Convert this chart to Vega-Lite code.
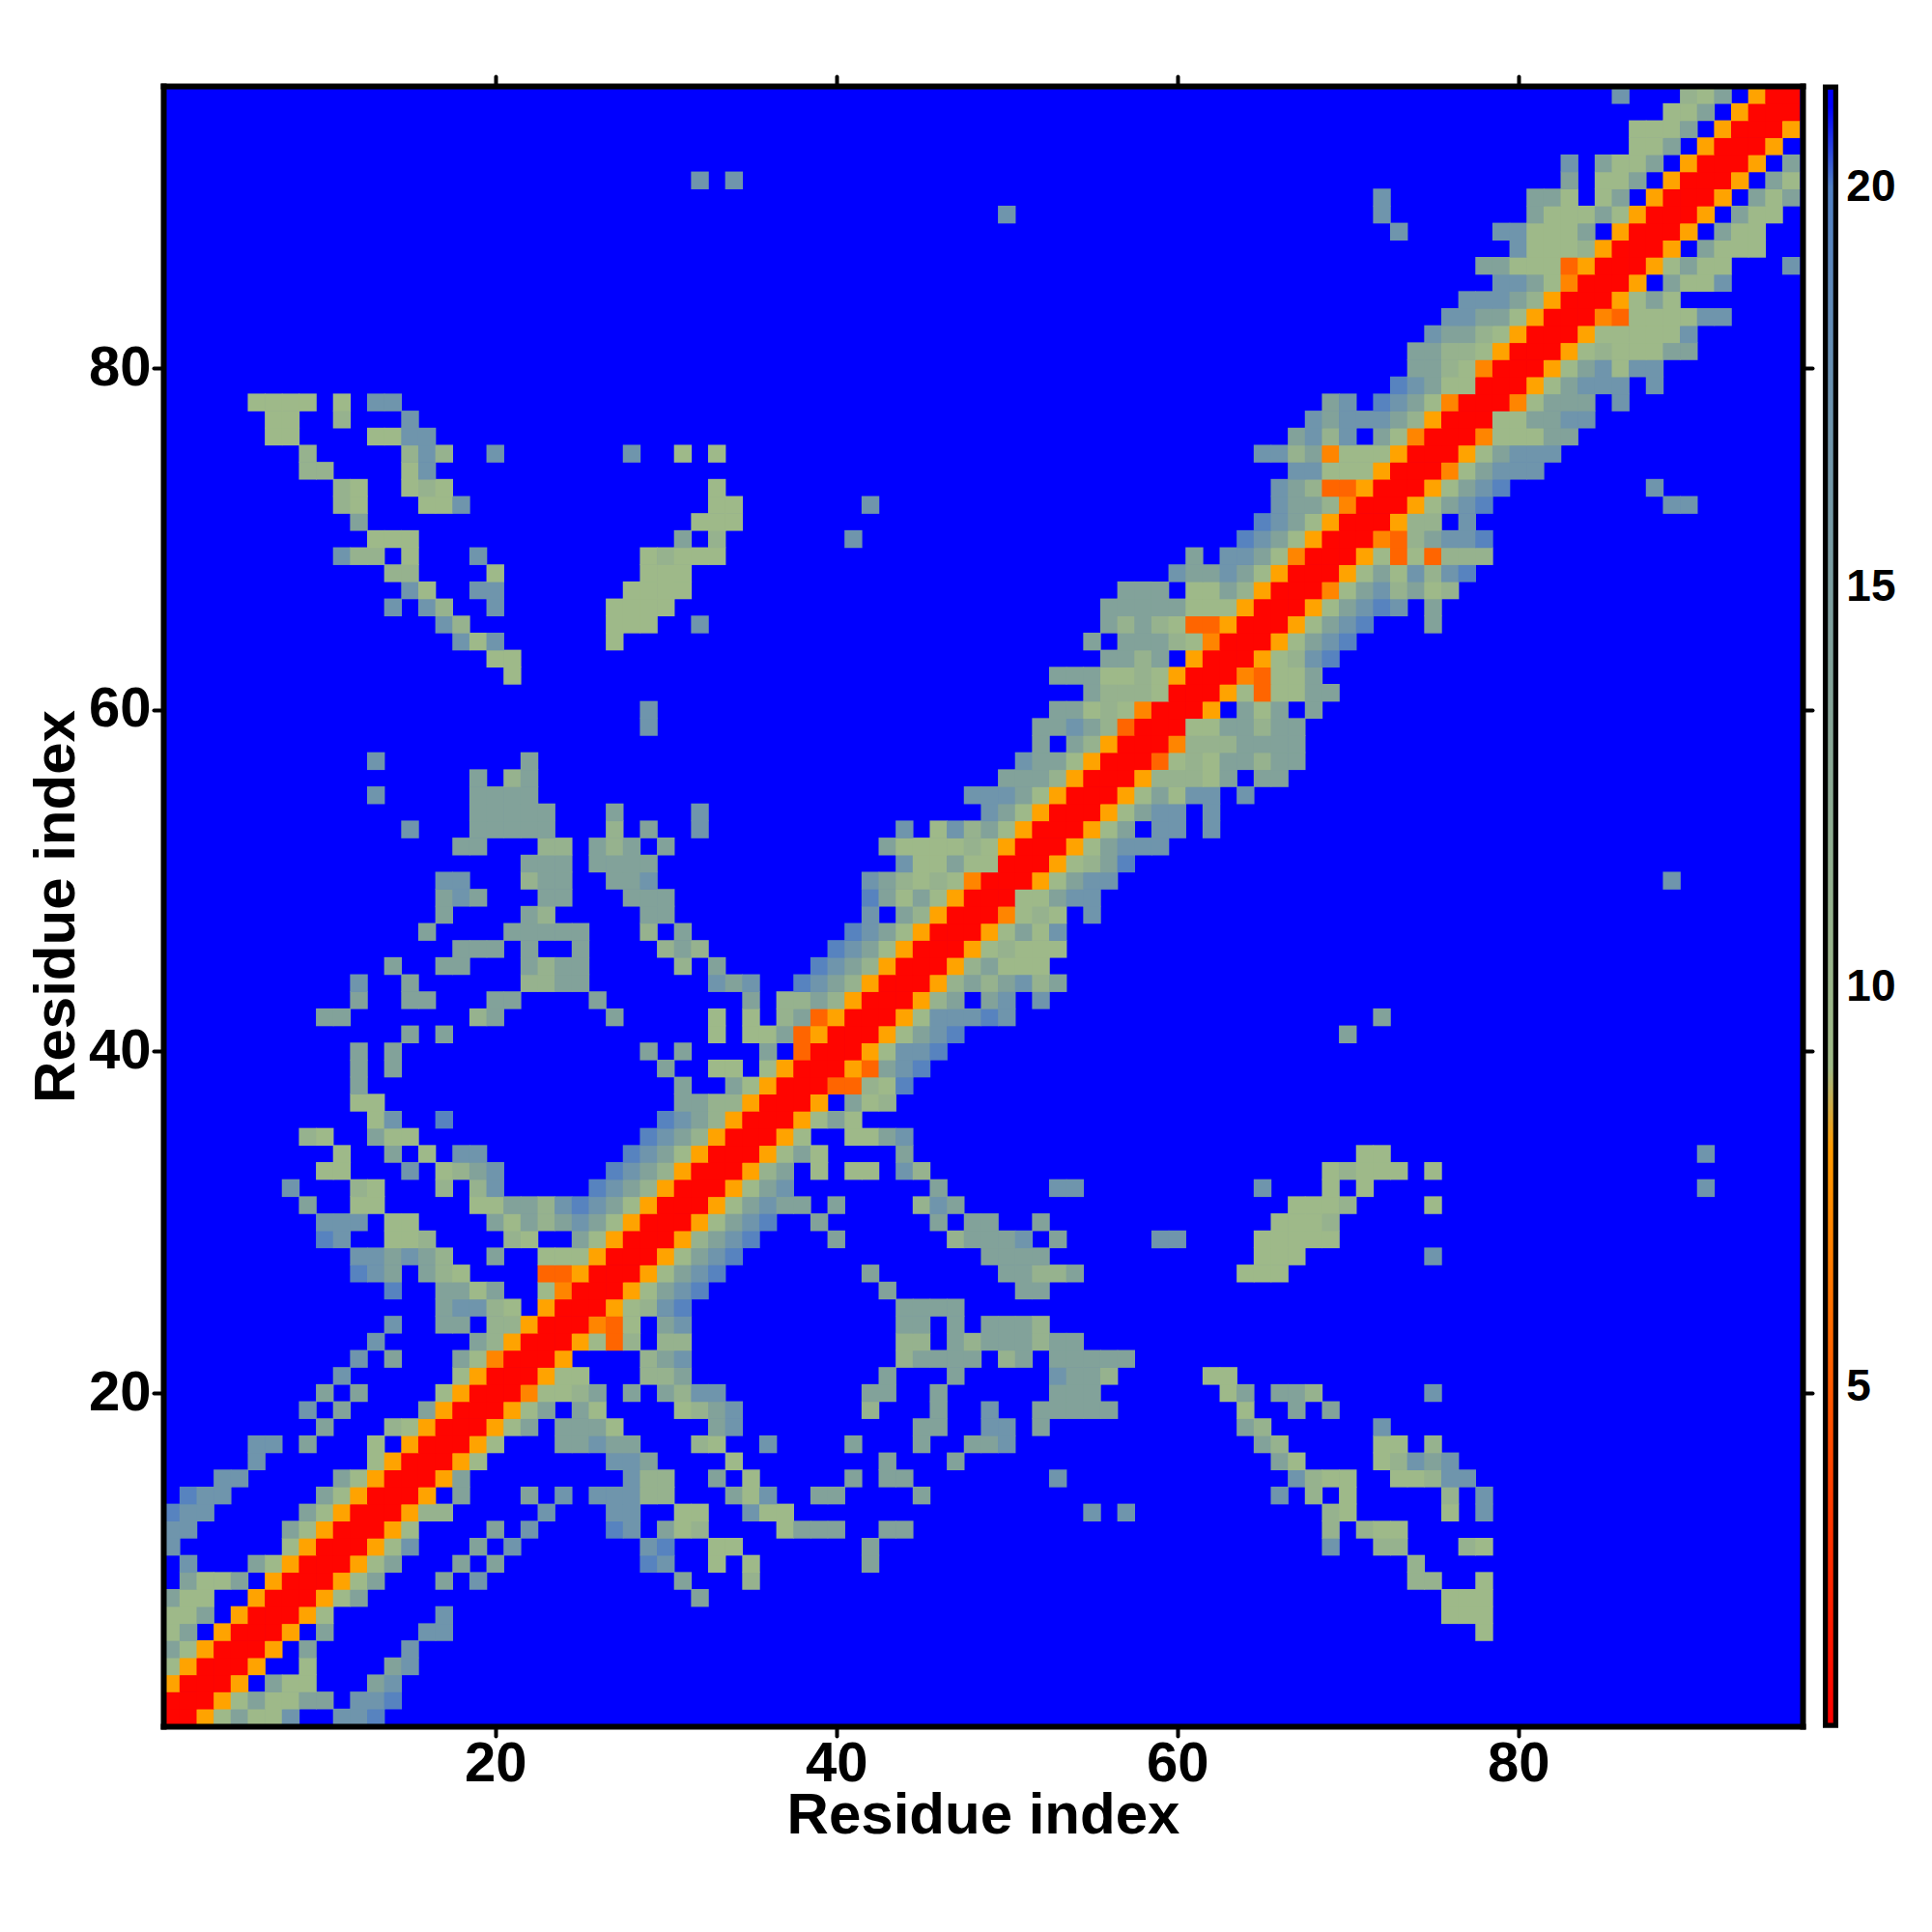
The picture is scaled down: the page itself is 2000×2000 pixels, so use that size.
{"$schema":"https://vega.github.io/schema/vega-lite/v6.json","autosize":{"type":"none"},"padding":{"left":169,"top":89,"right":134,"bottom":213},"width":1697,"height":1698,"background":"white","config":{"view":{"fill":"#0000ff","stroke":null},"font":"Liberation Sans"},"layer":[{"data":{"values":[
{"x":1,"y":1,"v":1},{"x":2,"y":1,"v":1},{"x":3,"y":1,"v":8.4},{"x":4,"y":1,"v":9.5},{"x":5,"y":1,"v":14},{"x":6,"y":1,"v":9.5},{"x":7,"y":1,"v":9.5},{"x":8,"y":1,"v":17},{"x":11,"y":1,"v":17},{"x":12,"y":1,"v":17},{"x":13,"y":1,"v":19.5},
{"x":1,"y":2,"v":1},{"x":2,"y":2,"v":1},{"x":3,"y":2,"v":1},{"x":4,"y":2,"v":8.4},{"x":5,"y":2,"v":9.5},{"x":6,"y":2,"v":14},{"x":7,"y":2,"v":9.5},{"x":8,"y":2,"v":9.5},{"x":9,"y":2,"v":14},{"x":10,"y":2,"v":14},{"x":12,"y":2,"v":17},{"x":13,"y":2,"v":17},{"x":14,"y":2,"v":19.5},
{"x":1,"y":3,"v":8.4},{"x":2,"y":3,"v":1},{"x":3,"y":3,"v":1},{"x":4,"y":3,"v":1},{"x":5,"y":3,"v":8.4},{"x":7,"y":3,"v":14},{"x":8,"y":3,"v":9.5},{"x":9,"y":3,"v":9.5},{"x":13,"y":3,"v":14},{"x":14,"y":3,"v":17},
{"x":1,"y":4,"v":9.5},{"x":2,"y":4,"v":8.4},{"x":3,"y":4,"v":1},{"x":4,"y":4,"v":1},{"x":5,"y":4,"v":1},{"x":6,"y":4,"v":8.4},{"x":9,"y":4,"v":9.5},{"x":14,"y":4,"v":14},{"x":15,"y":4,"v":17},
{"x":1,"y":5,"v":14},{"x":2,"y":5,"v":9.5},{"x":3,"y":5,"v":8.4},{"x":4,"y":5,"v":1},{"x":5,"y":5,"v":1},{"x":6,"y":5,"v":1},{"x":7,"y":5,"v":8.4},{"x":9,"y":5,"v":14},{"x":15,"y":5,"v":17},
{"x":1,"y":6,"v":9.5},{"x":2,"y":6,"v":14},{"x":4,"y":6,"v":8.4},{"x":5,"y":6,"v":1},{"x":6,"y":6,"v":1},{"x":7,"y":6,"v":1},{"x":8,"y":6,"v":8.4},{"x":10,"y":6,"v":14},{"x":16,"y":6,"v":17},{"x":17,"y":6,"v":17},{"x":78,"y":6,"v":9.5},
{"x":1,"y":7,"v":9.5},{"x":2,"y":7,"v":9.5},{"x":3,"y":7,"v":14},{"x":5,"y":7,"v":8.4},{"x":6,"y":7,"v":1},{"x":7,"y":7,"v":1},{"x":8,"y":7,"v":1},{"x":9,"y":7,"v":8.4},{"x":10,"y":7,"v":9.5},{"x":17,"y":7,"v":17},{"x":76,"y":7,"v":9.5},{"x":77,"y":7,"v":9.5},{"x":78,"y":7,"v":9.5},
{"x":1,"y":8,"v":14},{"x":2,"y":8,"v":9.5},{"x":3,"y":8,"v":9.5},{"x":6,"y":8,"v":8.4},{"x":7,"y":8,"v":1},{"x":8,"y":8,"v":1},{"x":9,"y":8,"v":1},{"x":10,"y":8,"v":8.4},{"x":11,"y":8,"v":9.5},{"x":12,"y":8,"v":14},{"x":32,"y":8,"v":14},{"x":76,"y":8,"v":9.5},{"x":77,"y":8,"v":9.5},{"x":78,"y":8,"v":9.5},
{"x":2,"y":9,"v":14},{"x":3,"y":9,"v":9.5},{"x":4,"y":9,"v":9.5},{"x":5,"y":9,"v":14},{"x":7,"y":9,"v":8.4},{"x":8,"y":9,"v":1},{"x":9,"y":9,"v":1},{"x":10,"y":9,"v":1},{"x":11,"y":9,"v":8.4},{"x":12,"y":9,"v":9.5},{"x":13,"y":9,"v":14},{"x":17,"y":9,"v":14},{"x":19,"y":9,"v":17},{"x":31,"y":9,"v":14},{"x":35,"y":9,"v":11},{"x":74,"y":9,"v":11},{"x":75,"y":9,"v":11},{"x":78,"y":9,"v":9.5},
{"x":2,"y":10,"v":17},{"x":6,"y":10,"v":14},{"x":7,"y":10,"v":9.5},{"x":8,"y":10,"v":8.4},{"x":9,"y":10,"v":1},{"x":10,"y":10,"v":1},{"x":11,"y":10,"v":1},{"x":12,"y":10,"v":8.4},{"x":13,"y":10,"v":9.5},{"x":14,"y":10,"v":14},{"x":18,"y":10,"v":14},{"x":20,"y":10,"v":14},{"x":29,"y":10,"v":19.5},{"x":30,"y":10,"v":17},{"x":33,"y":10,"v":9.5},{"x":35,"y":10,"v":9.5},{"x":42,"y":10,"v":14},{"x":74,"y":10,"v":11},
{"x":1,"y":11,"v":17},{"x":8,"y":11,"v":9.5},{"x":9,"y":11,"v":8.4},{"x":10,"y":11,"v":1},{"x":11,"y":11,"v":1},{"x":12,"y":11,"v":1},{"x":13,"y":11,"v":8.4},{"x":14,"y":11,"v":9.5},{"x":15,"y":11,"v":17},{"x":19,"y":11,"v":14},{"x":21,"y":11,"v":17},{"x":29,"y":11,"v":17},{"x":30,"y":11,"v":19.5},{"x":33,"y":11,"v":9.5},{"x":34,"y":11,"v":9.5},{"x":42,"y":11,"v":14},{"x":69,"y":11,"v":17},{"x":72,"y":11,"v":11},{"x":73,"y":11,"v":11},{"x":77,"y":11,"v":11},{"x":78,"y":11,"v":9.5},
{"x":1,"y":12,"v":17},{"x":2,"y":12,"v":17},{"x":8,"y":12,"v":14},{"x":9,"y":12,"v":9.5},{"x":10,"y":12,"v":8.4},{"x":11,"y":12,"v":1},{"x":12,"y":12,"v":1},{"x":13,"y":12,"v":1},{"x":14,"y":12,"v":8.4},{"x":15,"y":12,"v":9.5},{"x":20,"y":12,"v":14},{"x":22,"y":12,"v":17},{"x":27,"y":12,"v":19.5},{"x":28,"y":12,"v":17},{"x":30,"y":12,"v":14},{"x":31,"y":12,"v":9.5},{"x":32,"y":12,"v":11},{"x":37,"y":12,"v":9.5},{"x":38,"y":12,"v":14},{"x":39,"y":12,"v":14},{"x":40,"y":12,"v":14},{"x":43,"y":12,"v":14},{"x":44,"y":12,"v":14},{"x":69,"y":12,"v":11},{"x":71,"y":12,"v":11},{"x":72,"y":12,"v":9.5},{"x":73,"y":12,"v":9.5},
{"x":1,"y":13,"v":19.5},{"x":2,"y":13,"v":17},{"x":3,"y":13,"v":17},{"x":9,"y":13,"v":14},{"x":10,"y":13,"v":9.5},{"x":11,"y":13,"v":8.4},{"x":12,"y":13,"v":1},{"x":13,"y":13,"v":1},{"x":14,"y":13,"v":1},{"x":15,"y":13,"v":8.4},{"x":16,"y":13,"v":11},{"x":17,"y":13,"v":11},{"x":23,"y":13,"v":17},{"x":27,"y":13,"v":17},{"x":28,"y":13,"v":17},{"x":31,"y":13,"v":9.5},{"x":32,"y":13,"v":9.5},{"x":35,"y":13,"v":17},{"x":36,"y":13,"v":9.5},{"x":37,"y":13,"v":9.5},{"x":55,"y":13,"v":17},{"x":57,"y":13,"v":17},{"x":69,"y":13,"v":11},{"x":70,"y":13,"v":9.5},{"x":76,"y":13,"v":9.5},{"x":78,"y":13,"v":17},
{"x":2,"y":14,"v":19.5},{"x":3,"y":14,"v":17},{"x":4,"y":14,"v":17},{"x":10,"y":14,"v":14},{"x":11,"y":14,"v":9.5},{"x":12,"y":14,"v":8.4},{"x":13,"y":14,"v":1},{"x":14,"y":14,"v":1},{"x":15,"y":14,"v":1},{"x":16,"y":14,"v":8.4},{"x":18,"y":14,"v":14},{"x":22,"y":14,"v":14},{"x":24,"y":14,"v":17},{"x":26,"y":14,"v":17},{"x":27,"y":14,"v":17},{"x":28,"y":14,"v":17},{"x":29,"y":14,"v":11},{"x":30,"y":14,"v":11},{"x":34,"y":14,"v":14},{"x":35,"y":14,"v":9.5},{"x":36,"y":14,"v":17},{"x":39,"y":14,"v":14},{"x":40,"y":14,"v":14},{"x":45,"y":14,"v":14},{"x":66,"y":14,"v":17},{"x":68,"y":14,"v":11},{"x":70,"y":14,"v":9.5},{"x":76,"y":14,"v":11},{"x":78,"y":14,"v":17},
{"x":4,"y":15,"v":17},{"x":5,"y":15,"v":17},{"x":11,"y":15,"v":14},{"x":12,"y":15,"v":9.5},{"x":13,"y":15,"v":8.4},{"x":14,"y":15,"v":1},{"x":15,"y":15,"v":1},{"x":16,"y":15,"v":1},{"x":17,"y":15,"v":8.4},{"x":18,"y":15,"v":14},{"x":28,"y":15,"v":17},{"x":29,"y":15,"v":11},{"x":30,"y":15,"v":11},{"x":33,"y":15,"v":14},{"x":35,"y":15,"v":9.5},{"x":41,"y":15,"v":14},{"x":43,"y":15,"v":14},{"x":44,"y":15,"v":14},{"x":53,"y":15,"v":17},{"x":67,"y":15,"v":17},{"x":68,"y":15,"v":11},{"x":69,"y":15,"v":9.5},{"x":70,"y":15,"v":9.5},{"x":73,"y":15,"v":9.5},{"x":74,"y":15,"v":9.5},{"x":75,"y":15,"v":11},{"x":76,"y":15,"v":17},{"x":77,"y":15,"v":17},
{"x":6,"y":16,"v":17},{"x":13,"y":16,"v":9.5},{"x":14,"y":16,"v":8.4},{"x":15,"y":16,"v":1},{"x":16,"y":16,"v":1},{"x":17,"y":16,"v":1},{"x":18,"y":16,"v":8.4},{"x":19,"y":16,"v":9.5},{"x":27,"y":16,"v":17},{"x":28,"y":16,"v":17},{"x":29,"y":16,"v":14},{"x":34,"y":16,"v":9.5},{"x":43,"y":16,"v":14},{"x":47,"y":16,"v":14},{"x":66,"y":16,"v":14},{"x":67,"y":16,"v":9.5},{"x":72,"y":16,"v":9.5},{"x":73,"y":16,"v":11},{"x":74,"y":16,"v":17},{"x":75,"y":16,"v":14},{"x":76,"y":16,"v":17},
{"x":6,"y":17,"v":17},{"x":7,"y":17,"v":17},{"x":9,"y":17,"v":14},{"x":13,"y":17,"v":9.5},{"x":15,"y":17,"v":8.4},{"x":16,"y":17,"v":1},{"x":17,"y":17,"v":1},{"x":18,"y":17,"v":1},{"x":19,"y":17,"v":8.4},{"x":20,"y":17,"v":9.5},{"x":24,"y":17,"v":14},{"x":25,"y":17,"v":14},{"x":26,"y":17,"v":17},{"x":27,"y":17,"v":14},{"x":28,"y":17,"v":14},{"x":32,"y":17,"v":11},{"x":33,"y":17,"v":9.5},{"x":36,"y":17,"v":17},{"x":41,"y":17,"v":14},{"x":45,"y":17,"v":14},{"x":48,"y":17,"v":14},{"x":49,"y":17,"v":14},{"x":50,"y":17,"v":17},{"x":65,"y":17,"v":14},{"x":66,"y":17,"v":11},{"x":72,"y":17,"v":9.5},{"x":73,"y":17,"v":9.5},{"x":75,"y":17,"v":11},
{"x":10,"y":18,"v":14},{"x":14,"y":18,"v":11},{"x":15,"y":18,"v":9.5},{"x":16,"y":18,"v":8.4},{"x":17,"y":18,"v":1},{"x":18,"y":18,"v":1},{"x":19,"y":18,"v":1},{"x":20,"y":18,"v":8.4},{"x":21,"y":18,"v":9.5},{"x":22,"y":18,"v":14},{"x":24,"y":18,"v":14},{"x":25,"y":18,"v":14},{"x":26,"y":18,"v":14},{"x":27,"y":18,"v":9.5},{"x":33,"y":18,"v":14},{"x":34,"y":18,"v":17},{"x":45,"y":18,"v":14},{"x":46,"y":18,"v":14},{"x":49,"y":18,"v":17},{"x":50,"y":18,"v":17},{"x":52,"y":18,"v":14},{"x":64,"y":18,"v":14},{"x":65,"y":18,"v":11},{"x":72,"y":18,"v":17},
{"x":9,"y":19,"v":17},{"x":11,"y":19,"v":14},{"x":16,"y":19,"v":14},{"x":17,"y":19,"v":8.4},{"x":18,"y":19,"v":1},{"x":19,"y":19,"v":1},{"x":20,"y":19,"v":1},{"x":21,"y":19,"v":8.4},{"x":22,"y":19,"v":9.5},{"x":23,"y":19,"v":14},{"x":25,"y":19,"v":14},{"x":26,"y":19,"v":9.5},{"x":31,"y":19,"v":9.5},{"x":32,"y":19,"v":11},{"x":33,"y":19,"v":14},{"x":34,"y":19,"v":17},{"x":42,"y":19,"v":11},{"x":46,"y":19,"v":14},{"x":49,"y":19,"v":17},{"x":52,"y":19,"v":14},{"x":53,"y":19,"v":14},{"x":54,"y":19,"v":14},{"x":55,"y":19,"v":14},{"x":56,"y":19,"v":14},{"x":64,"y":19,"v":9.5},{"x":67,"y":19,"v":14},{"x":69,"y":19,"v":14},
{"x":10,"y":20,"v":14},{"x":12,"y":20,"v":14},{"x":17,"y":20,"v":9.5},{"x":18,"y":20,"v":8.4},{"x":19,"y":20,"v":1},{"x":20,"y":20,"v":1},{"x":21,"y":20,"v":1},{"x":22,"y":20,"v":7},{"x":23,"y":20,"v":9.5},{"x":24,"y":20,"v":9.5},{"x":25,"y":20,"v":11},{"x":26,"y":20,"v":14},{"x":28,"y":20,"v":14},{"x":30,"y":20,"v":14},{"x":31,"y":20,"v":11},{"x":32,"y":20,"v":17},{"x":33,"y":20,"v":17},{"x":42,"y":20,"v":14},{"x":43,"y":20,"v":14},{"x":46,"y":20,"v":14},{"x":53,"y":20,"v":14},{"x":54,"y":20,"v":14},{"x":55,"y":20,"v":14},{"x":63,"y":20,"v":9.5},{"x":64,"y":20,"v":14},{"x":66,"y":20,"v":14},{"x":67,"y":20,"v":14},{"x":68,"y":20,"v":11},{"x":75,"y":20,"v":17},
{"x":11,"y":21,"v":17},{"x":18,"y":21,"v":9.5},{"x":19,"y":21,"v":8.4},{"x":20,"y":21,"v":1},{"x":21,"y":21,"v":1},{"x":22,"y":21,"v":1},{"x":23,"y":21,"v":8.4},{"x":24,"y":21,"v":9.5},{"x":25,"y":21,"v":9.5},{"x":29,"y":21,"v":11},{"x":30,"y":21,"v":11},{"x":31,"y":21,"v":14},{"x":43,"y":21,"v":14},{"x":47,"y":21,"v":14},{"x":53,"y":21,"v":17},{"x":54,"y":21,"v":14},{"x":55,"y":21,"v":14},{"x":56,"y":21,"v":11},{"x":62,"y":21,"v":9.5},{"x":63,"y":21,"v":9.5},
{"x":12,"y":22,"v":17},{"x":14,"y":22,"v":14},{"x":18,"y":22,"v":14},{"x":19,"y":22,"v":9.5},{"x":20,"y":22,"v":7},{"x":21,"y":22,"v":1},{"x":22,"y":22,"v":1},{"x":23,"y":22,"v":1},{"x":24,"y":22,"v":8.4},{"x":29,"y":22,"v":11},{"x":30,"y":22,"v":14},{"x":31,"y":22,"v":17},{"x":44,"y":22,"v":11},{"x":45,"y":22,"v":14},{"x":46,"y":22,"v":14},{"x":47,"y":22,"v":14},{"x":48,"y":22,"v":14},{"x":50,"y":22,"v":11},{"x":51,"y":22,"v":14},{"x":53,"y":22,"v":14},{"x":54,"y":22,"v":14},{"x":55,"y":22,"v":14},{"x":56,"y":22,"v":14},{"x":57,"y":22,"v":14},
{"x":13,"y":23,"v":17},{"x":19,"y":23,"v":14},{"x":20,"y":23,"v":11},{"x":21,"y":23,"v":8.4},{"x":22,"y":23,"v":1},{"x":23,"y":23,"v":1},{"x":24,"y":23,"v":1},{"x":25,"y":23,"v":8.4},{"x":26,"y":23,"v":9.5},{"x":27,"y":23,"v":5.5},{"x":28,"y":23,"v":11},{"x":30,"y":23,"v":11},{"x":31,"y":23,"v":11},{"x":44,"y":23,"v":11},{"x":45,"y":23,"v":11},{"x":47,"y":23,"v":14},{"x":48,"y":23,"v":11},{"x":49,"y":23,"v":14},{"x":50,"y":23,"v":14},{"x":51,"y":23,"v":14},{"x":52,"y":23,"v":11},{"x":53,"y":23,"v":14},{"x":54,"y":23,"v":14},
{"x":14,"y":24,"v":17},{"x":17,"y":24,"v":14},{"x":18,"y":24,"v":14},{"x":20,"y":24,"v":11},{"x":21,"y":24,"v":11},{"x":22,"y":24,"v":8.4},{"x":23,"y":24,"v":1},{"x":24,"y":24,"v":1},{"x":25,"y":24,"v":1},{"x":26,"y":24,"v":7},{"x":27,"y":24,"v":5.5},{"x":28,"y":24,"v":9.5},{"x":30,"y":24,"v":14},{"x":31,"y":24,"v":17},{"x":44,"y":24,"v":14},{"x":45,"y":24,"v":14},{"x":47,"y":24,"v":14},{"x":49,"y":24,"v":14},{"x":50,"y":24,"v":14},{"x":51,"y":24,"v":14},{"x":52,"y":24,"v":11},
{"x":17,"y":25,"v":14},{"x":18,"y":25,"v":17},{"x":19,"y":25,"v":17},{"x":20,"y":25,"v":11},{"x":21,"y":25,"v":9.5},{"x":23,"y":25,"v":8.4},{"x":24,"y":25,"v":1},{"x":25,"y":25,"v":1},{"x":26,"y":25,"v":1},{"x":27,"y":25,"v":8.4},{"x":28,"y":25,"v":9.5},{"x":29,"y":25,"v":11},{"x":30,"y":25,"v":17},{"x":31,"y":25,"v":19.5},{"x":44,"y":25,"v":14},{"x":45,"y":25,"v":14},{"x":46,"y":25,"v":14},{"x":47,"y":25,"v":14},
{"x":14,"y":26,"v":19.5},{"x":17,"y":26,"v":14},{"x":18,"y":26,"v":14},{"x":19,"y":26,"v":9.5},{"x":20,"y":26,"v":14},{"x":23,"y":26,"v":9.5},{"x":24,"y":26,"v":7},{"x":25,"y":26,"v":1},{"x":26,"y":26,"v":1},{"x":27,"y":26,"v":1},{"x":28,"y":26,"v":8.4},{"x":29,"y":26,"v":9.5},{"x":30,"y":26,"v":14},{"x":31,"y":26,"v":17},{"x":32,"y":26,"v":19.5},{"x":43,"y":26,"v":14},{"x":51,"y":26,"v":14},{"x":52,"y":26,"v":14},
{"x":12,"y":27,"v":19.5},{"x":13,"y":27,"v":17},{"x":14,"y":27,"v":14},{"x":16,"y":27,"v":14},{"x":17,"y":27,"v":11},{"x":18,"y":27,"v":9.5},{"x":23,"y":27,"v":5.5},{"x":24,"y":27,"v":5.5},{"x":25,"y":27,"v":8.4},{"x":26,"y":27,"v":1},{"x":27,"y":27,"v":1},{"x":28,"y":27,"v":1},{"x":29,"y":27,"v":8.4},{"x":30,"y":27,"v":9.5},{"x":31,"y":27,"v":14},{"x":32,"y":27,"v":17},{"x":33,"y":27,"v":19.5},{"x":42,"y":27,"v":14},{"x":50,"y":27,"v":14},{"x":51,"y":27,"v":14},{"x":52,"y":27,"v":11},{"x":53,"y":27,"v":11},{"x":54,"y":27,"v":14},{"x":64,"y":27,"v":9.5},{"x":65,"y":27,"v":9.5},{"x":66,"y":27,"v":9.5},
{"x":12,"y":28,"v":17},{"x":13,"y":28,"v":17},{"x":14,"y":28,"v":14},{"x":15,"y":28,"v":17},{"x":16,"y":28,"v":14},{"x":17,"y":28,"v":11},{"x":20,"y":28,"v":14},{"x":23,"y":28,"v":9.5},{"x":24,"y":28,"v":9.5},{"x":25,"y":28,"v":9.5},{"x":26,"y":28,"v":8.4},{"x":27,"y":28,"v":1},{"x":28,"y":28,"v":1},{"x":29,"y":28,"v":1},{"x":30,"y":28,"v":8.4},{"x":31,"y":28,"v":9.5},{"x":32,"y":28,"v":14},{"x":33,"y":28,"v":17},{"x":34,"y":28,"v":19.5},{"x":49,"y":28,"v":14},{"x":50,"y":28,"v":14},{"x":51,"y":28,"v":14},{"x":52,"y":28,"v":14},{"x":65,"y":28,"v":9.5},{"x":66,"y":28,"v":9.5},{"x":67,"y":28,"v":9.5},{"x":75,"y":28,"v":17},
{"x":10,"y":29,"v":19.5},{"x":11,"y":29,"v":17},{"x":14,"y":29,"v":9.5},{"x":15,"y":29,"v":9.5},{"x":16,"y":29,"v":11},{"x":21,"y":29,"v":11},{"x":22,"y":29,"v":9.5},{"x":25,"y":29,"v":14},{"x":26,"y":29,"v":9.5},{"x":27,"y":29,"v":8.4},{"x":28,"y":29,"v":1},{"x":29,"y":29,"v":1},{"x":30,"y":29,"v":1},{"x":31,"y":29,"v":8.4},{"x":32,"y":29,"v":11},{"x":33,"y":29,"v":14},{"x":34,"y":29,"v":17},{"x":35,"y":29,"v":19.5},{"x":40,"y":29,"v":14},{"x":47,"y":29,"v":11},{"x":48,"y":29,"v":14},{"x":49,"y":29,"v":14},{"x":50,"y":29,"v":14},{"x":51,"y":29,"v":17},{"x":53,"y":29,"v":14},{"x":59,"y":29,"v":17},{"x":60,"y":29,"v":17},{"x":65,"y":29,"v":9.5},{"x":66,"y":29,"v":9.5},{"x":67,"y":29,"v":9.5},{"x":68,"y":29,"v":9.5},{"x":69,"y":29,"v":9.5},
{"x":10,"y":30,"v":17},{"x":11,"y":30,"v":17},{"x":12,"y":30,"v":17},{"x":14,"y":30,"v":9.5},{"x":15,"y":30,"v":9.5},{"x":20,"y":30,"v":14},{"x":21,"y":30,"v":9.5},{"x":22,"y":30,"v":14},{"x":23,"y":30,"v":11},{"x":24,"y":30,"v":14},{"x":25,"y":30,"v":17},{"x":26,"y":30,"v":14},{"x":27,"y":30,"v":9.5},{"x":28,"y":30,"v":8.4},{"x":29,"y":30,"v":1},{"x":30,"y":30,"v":1},{"x":31,"y":30,"v":1},{"x":32,"y":30,"v":8.4},{"x":33,"y":30,"v":9.5},{"x":34,"y":30,"v":14},{"x":35,"y":30,"v":17},{"x":36,"y":30,"v":19.5},{"x":39,"y":30,"v":14},{"x":46,"y":30,"v":14},{"x":48,"y":30,"v":14},{"x":49,"y":30,"v":14},{"x":52,"y":30,"v":14},{"x":66,"y":30,"v":9.5},{"x":67,"y":30,"v":9.5},{"x":68,"y":30,"v":9.5},{"x":69,"y":30,"v":11},
{"x":9,"y":31,"v":14},{"x":12,"y":31,"v":9.5},{"x":13,"y":31,"v":9.5},{"x":19,"y":31,"v":9.5},{"x":20,"y":31,"v":9.5},{"x":21,"y":31,"v":14},{"x":22,"y":31,"v":14},{"x":23,"y":31,"v":11},{"x":24,"y":31,"v":17},{"x":25,"y":31,"v":19.5},{"x":26,"y":31,"v":17},{"x":27,"y":31,"v":14},{"x":28,"y":31,"v":9.5},{"x":29,"y":31,"v":8.4},{"x":30,"y":31,"v":1},{"x":31,"y":31,"v":1},{"x":32,"y":31,"v":1},{"x":33,"y":31,"v":8.4},{"x":34,"y":31,"v":9.5},{"x":35,"y":31,"v":14},{"x":36,"y":31,"v":17},{"x":37,"y":31,"v":14},{"x":38,"y":31,"v":14},{"x":40,"y":31,"v":14},{"x":45,"y":31,"v":11},{"x":46,"y":31,"v":17},{"x":47,"y":31,"v":14},{"x":67,"y":31,"v":9.5},{"x":68,"y":31,"v":9.5},{"x":69,"y":31,"v":9.5},{"x":70,"y":31,"v":11},{"x":75,"y":31,"v":9.5},
{"x":8,"y":32,"v":17},{"x":12,"y":32,"v":11},{"x":13,"y":32,"v":9.5},{"x":17,"y":32,"v":11},{"x":19,"y":32,"v":11},{"x":20,"y":32,"v":17},{"x":26,"y":32,"v":19.5},{"x":27,"y":32,"v":17},{"x":28,"y":32,"v":14},{"x":29,"y":32,"v":11},{"x":30,"y":32,"v":8.4},{"x":31,"y":32,"v":1},{"x":32,"y":32,"v":1},{"x":33,"y":32,"v":1},{"x":34,"y":32,"v":8.4},{"x":35,"y":32,"v":9.5},{"x":36,"y":32,"v":14},{"x":37,"y":32,"v":17},{"x":46,"y":32,"v":14},{"x":53,"y":32,"v":17},{"x":54,"y":32,"v":17},{"x":65,"y":32,"v":17},{"x":69,"y":32,"v":9.5},{"x":71,"y":32,"v":9.5},{"x":91,"y":32,"v":17},
{"x":10,"y":33,"v":9.5},{"x":11,"y":33,"v":9.5},{"x":15,"y":33,"v":17},{"x":17,"y":33,"v":9.5},{"x":18,"y":33,"v":11},{"x":19,"y":33,"v":14},{"x":20,"y":33,"v":17},{"x":27,"y":33,"v":19.5},{"x":28,"y":33,"v":17},{"x":29,"y":33,"v":14},{"x":30,"y":33,"v":11},{"x":31,"y":33,"v":8.4},{"x":32,"y":33,"v":1},{"x":33,"y":33,"v":1},{"x":34,"y":33,"v":1},{"x":35,"y":33,"v":8.4},{"x":36,"y":33,"v":11},{"x":37,"y":33,"v":14},{"x":39,"y":33,"v":9.5},{"x":41,"y":33,"v":9.5},{"x":42,"y":33,"v":9.5},{"x":44,"y":33,"v":17},{"x":45,"y":33,"v":11},{"x":69,"y":33,"v":9.5},{"x":70,"y":33,"v":11},{"x":71,"y":33,"v":9.5},{"x":72,"y":33,"v":9.5},{"x":73,"y":33,"v":9.5},{"x":75,"y":33,"v":9.5},
{"x":11,"y":34,"v":9.5},{"x":14,"y":34,"v":14},{"x":16,"y":34,"v":9.5},{"x":18,"y":34,"v":17},{"x":19,"y":34,"v":17},{"x":28,"y":34,"v":19.5},{"x":29,"y":34,"v":17},{"x":30,"y":34,"v":14},{"x":31,"y":34,"v":9.5},{"x":32,"y":34,"v":8.4},{"x":33,"y":34,"v":1},{"x":34,"y":34,"v":1},{"x":35,"y":34,"v":1},{"x":36,"y":34,"v":8.4},{"x":37,"y":34,"v":9.5},{"x":38,"y":34,"v":14},{"x":39,"y":34,"v":9.5},{"x":44,"y":34,"v":14},{"x":71,"y":34,"v":9.5},{"x":72,"y":34,"v":9.5},{"x":91,"y":34,"v":17},
{"x":9,"y":35,"v":11},{"x":10,"y":35,"v":9.5},{"x":13,"y":35,"v":14},{"x":14,"y":35,"v":9.5},{"x":15,"y":35,"v":9.5},{"x":29,"y":35,"v":19.5},{"x":30,"y":35,"v":17},{"x":31,"y":35,"v":14},{"x":32,"y":35,"v":11},{"x":33,"y":35,"v":8.4},{"x":34,"y":35,"v":1},{"x":35,"y":35,"v":1},{"x":36,"y":35,"v":1},{"x":37,"y":35,"v":8.4},{"x":38,"y":35,"v":9.5},{"x":41,"y":35,"v":9.5},{"x":42,"y":35,"v":9.5},{"x":43,"y":35,"v":14},{"x":44,"y":35,"v":17},
{"x":13,"y":36,"v":9.5},{"x":14,"y":36,"v":17},{"x":17,"y":36,"v":19.5},{"x":30,"y":36,"v":19.5},{"x":31,"y":36,"v":17},{"x":32,"y":36,"v":14},{"x":33,"y":36,"v":11},{"x":34,"y":36,"v":8.4},{"x":35,"y":36,"v":1},{"x":36,"y":36,"v":1},{"x":37,"y":36,"v":1},{"x":38,"y":36,"v":8.4},{"x":39,"y":36,"v":9.5},{"x":40,"y":36,"v":14},{"x":41,"y":36,"v":9.5},
{"x":12,"y":37,"v":9.5},{"x":13,"y":37,"v":9.5},{"x":31,"y":37,"v":14},{"x":32,"y":37,"v":14},{"x":33,"y":37,"v":11},{"x":34,"y":37,"v":11},{"x":35,"y":37,"v":8.4},{"x":36,"y":37,"v":1},{"x":37,"y":37,"v":1},{"x":38,"y":37,"v":1},{"x":39,"y":37,"v":8.4},{"x":41,"y":37,"v":14},{"x":42,"y":37,"v":9.5},{"x":43,"y":37,"v":11},
{"x":12,"y":38,"v":14},{"x":31,"y":38,"v":14},{"x":34,"y":38,"v":14},{"x":35,"y":38,"v":9.5},{"x":36,"y":38,"v":8.4},{"x":37,"y":38,"v":1},{"x":38,"y":38,"v":1},{"x":39,"y":38,"v":1},{"x":40,"y":38,"v":5.5},{"x":41,"y":38,"v":5.5},{"x":42,"y":38,"v":11},{"x":43,"y":38,"v":9.5},{"x":44,"y":38,"v":19.5},
{"x":12,"y":39,"v":14},{"x":14,"y":39,"v":14},{"x":30,"y":39,"v":14},{"x":33,"y":39,"v":9.5},{"x":34,"y":39,"v":9.5},{"x":36,"y":39,"v":9.5},{"x":37,"y":39,"v":8.4},{"x":38,"y":39,"v":1},{"x":39,"y":39,"v":1},{"x":40,"y":39,"v":1},{"x":41,"y":39,"v":8.4},{"x":42,"y":39,"v":5.5},{"x":43,"y":39,"v":14},{"x":44,"y":39,"v":17},{"x":45,"y":39,"v":19.5},
{"x":12,"y":40,"v":14},{"x":14,"y":40,"v":14},{"x":29,"y":40,"v":14},{"x":31,"y":40,"v":14},{"x":36,"y":40,"v":14},{"x":38,"y":40,"v":5.5},{"x":39,"y":40,"v":1},{"x":40,"y":40,"v":1},{"x":41,"y":40,"v":1},{"x":42,"y":40,"v":8.4},{"x":43,"y":40,"v":9.5},{"x":44,"y":40,"v":17},{"x":45,"y":40,"v":17},{"x":46,"y":40,"v":19.5},
{"x":15,"y":41,"v":14},{"x":17,"y":41,"v":14},{"x":33,"y":41,"v":9.5},{"x":35,"y":41,"v":9.5},{"x":36,"y":41,"v":9.5},{"x":37,"y":41,"v":14},{"x":38,"y":41,"v":5.5},{"x":39,"y":41,"v":8.4},{"x":40,"y":41,"v":1},{"x":41,"y":41,"v":1},{"x":42,"y":41,"v":1},{"x":43,"y":41,"v":8.4},{"x":44,"y":41,"v":9.5},{"x":45,"y":41,"v":14},{"x":46,"y":41,"v":17},{"x":47,"y":41,"v":19.5},{"x":70,"y":41,"v":14},
{"x":10,"y":42,"v":14},{"x":11,"y":42,"v":14},{"x":19,"y":42,"v":11},{"x":20,"y":42,"v":14},{"x":27,"y":42,"v":14},{"x":33,"y":42,"v":9.5},{"x":35,"y":42,"v":9.5},{"x":37,"y":42,"v":11},{"x":38,"y":42,"v":14},{"x":39,"y":42,"v":5.5},{"x":40,"y":42,"v":8.4},{"x":41,"y":42,"v":1},{"x":42,"y":42,"v":1},{"x":43,"y":42,"v":1},{"x":44,"y":42,"v":8.4},{"x":45,"y":42,"v":9.5},{"x":46,"y":42,"v":17},{"x":47,"y":42,"v":17},{"x":48,"y":42,"v":17},{"x":49,"y":42,"v":19.5},{"x":50,"y":42,"v":17},{"x":72,"y":42,"v":14},
{"x":12,"y":43,"v":14},{"x":15,"y":43,"v":14},{"x":16,"y":43,"v":14},{"x":20,"y":43,"v":14},{"x":21,"y":43,"v":14},{"x":26,"y":43,"v":14},{"x":35,"y":43,"v":14},{"x":37,"y":43,"v":11},{"x":38,"y":43,"v":11},{"x":39,"y":43,"v":14},{"x":40,"y":43,"v":11},{"x":41,"y":43,"v":8.4},{"x":42,"y":43,"v":1},{"x":43,"y":43,"v":1},{"x":44,"y":43,"v":1},{"x":45,"y":43,"v":8.4},{"x":46,"y":43,"v":11},{"x":47,"y":43,"v":14},{"x":49,"y":43,"v":14},{"x":50,"y":43,"v":17},{"x":52,"y":43,"v":17},
{"x":12,"y":44,"v":17},{"x":15,"y":44,"v":14},{"x":22,"y":44,"v":11},{"x":23,"y":44,"v":11},{"x":24,"y":44,"v":14},{"x":25,"y":44,"v":14},{"x":33,"y":44,"v":17},{"x":34,"y":44,"v":14},{"x":35,"y":44,"v":17},{"x":38,"y":44,"v":19.5},{"x":39,"y":44,"v":17},{"x":40,"y":44,"v":14},{"x":41,"y":44,"v":11},{"x":42,"y":44,"v":8.4},{"x":43,"y":44,"v":1},{"x":44,"y":44,"v":1},{"x":45,"y":44,"v":1},{"x":46,"y":44,"v":8.4},{"x":47,"y":44,"v":11},{"x":48,"y":44,"v":14},{"x":49,"y":44,"v":11},{"x":50,"y":44,"v":14},{"x":51,"y":44,"v":17},{"x":52,"y":44,"v":11},{"x":53,"y":44,"v":14},
{"x":14,"y":45,"v":14},{"x":17,"y":45,"v":14},{"x":18,"y":45,"v":14},{"x":22,"y":45,"v":14},{"x":23,"y":45,"v":11},{"x":24,"y":45,"v":14},{"x":25,"y":45,"v":14},{"x":31,"y":45,"v":11},{"x":33,"y":45,"v":14},{"x":39,"y":45,"v":19.5},{"x":40,"y":45,"v":17},{"x":41,"y":45,"v":14},{"x":42,"y":45,"v":11},{"x":43,"y":45,"v":8.4},{"x":44,"y":45,"v":1},{"x":45,"y":45,"v":1},{"x":46,"y":45,"v":1},{"x":47,"y":45,"v":8.4},{"x":48,"y":45,"v":11},{"x":49,"y":45,"v":14},{"x":50,"y":45,"v":9.5},{"x":51,"y":45,"v":9.5},{"x":52,"y":45,"v":9.5},
{"x":18,"y":46,"v":14},{"x":19,"y":46,"v":14},{"x":20,"y":46,"v":14},{"x":22,"y":46,"v":14},{"x":25,"y":46,"v":14},{"x":30,"y":46,"v":11},{"x":31,"y":46,"v":14},{"x":32,"y":46,"v":11},{"x":40,"y":46,"v":19.5},{"x":41,"y":46,"v":17},{"x":42,"y":46,"v":14},{"x":43,"y":46,"v":9.5},{"x":44,"y":46,"v":8.4},{"x":45,"y":46,"v":1},{"x":46,"y":46,"v":1},{"x":47,"y":46,"v":1},{"x":48,"y":46,"v":8.4},{"x":49,"y":46,"v":9.5},{"x":50,"y":46,"v":11},{"x":51,"y":46,"v":9.5},{"x":52,"y":46,"v":9.5},{"x":53,"y":46,"v":9.5},
{"x":16,"y":47,"v":14},{"x":21,"y":47,"v":14},{"x":22,"y":47,"v":14},{"x":23,"y":47,"v":14},{"x":24,"y":47,"v":14},{"x":25,"y":47,"v":14},{"x":29,"y":47,"v":11},{"x":31,"y":47,"v":14},{"x":41,"y":47,"v":19.5},{"x":42,"y":47,"v":17},{"x":43,"y":47,"v":14},{"x":44,"y":47,"v":9.5},{"x":45,"y":47,"v":8.4},{"x":46,"y":47,"v":1},{"x":47,"y":47,"v":1},{"x":48,"y":47,"v":1},{"x":49,"y":47,"v":8.4},{"x":50,"y":47,"v":9.5},{"x":51,"y":47,"v":14},{"x":52,"y":47,"v":9.5},{"x":53,"y":47,"v":17},
{"x":17,"y":48,"v":14},{"x":22,"y":48,"v":14},{"x":23,"y":48,"v":11},{"x":29,"y":48,"v":14},{"x":30,"y":48,"v":14},{"x":42,"y":48,"v":17},{"x":44,"y":48,"v":14},{"x":45,"y":48,"v":11},{"x":46,"y":48,"v":8.4},{"x":47,"y":48,"v":1},{"x":48,"y":48,"v":1},{"x":49,"y":48,"v":1},{"x":50,"y":48,"v":7},{"x":51,"y":48,"v":9.5},{"x":52,"y":48,"v":11},{"x":53,"y":48,"v":9.5},{"x":55,"y":48,"v":17},
{"x":17,"y":49,"v":14},{"x":18,"y":49,"v":17},{"x":19,"y":49,"v":14},{"x":23,"y":49,"v":14},{"x":24,"y":49,"v":14},{"x":28,"y":49,"v":14},{"x":29,"y":49,"v":14},{"x":30,"y":49,"v":14},{"x":42,"y":49,"v":19.5},{"x":43,"y":49,"v":14},{"x":44,"y":49,"v":9.5},{"x":45,"y":49,"v":14},{"x":46,"y":49,"v":9.5},{"x":47,"y":49,"v":8.4},{"x":48,"y":49,"v":1},{"x":49,"y":49,"v":1},{"x":50,"y":49,"v":1},{"x":51,"y":49,"v":9.5},{"x":52,"y":49,"v":9.5},{"x":53,"y":49,"v":14},{"x":54,"y":49,"v":17},{"x":55,"y":49,"v":17},
{"x":17,"y":50,"v":17},{"x":18,"y":50,"v":17},{"x":22,"y":50,"v":11},{"x":23,"y":50,"v":14},{"x":24,"y":50,"v":14},{"x":27,"y":50,"v":14},{"x":28,"y":50,"v":14},{"x":29,"y":50,"v":17},{"x":42,"y":50,"v":17},{"x":43,"y":50,"v":14},{"x":44,"y":50,"v":11},{"x":45,"y":50,"v":9.5},{"x":46,"y":50,"v":11},{"x":47,"y":50,"v":9.5},{"x":48,"y":50,"v":7},{"x":49,"y":50,"v":1},{"x":50,"y":50,"v":1},{"x":51,"y":50,"v":1},{"x":52,"y":50,"v":8.4},{"x":53,"y":50,"v":9.5},{"x":54,"y":50,"v":14},{"x":55,"y":50,"v":17},{"x":56,"y":50,"v":17},{"x":89,"y":50,"v":17},
{"x":22,"y":51,"v":14},{"x":23,"y":51,"v":14},{"x":24,"y":51,"v":14},{"x":26,"y":51,"v":14},{"x":27,"y":51,"v":14},{"x":28,"y":51,"v":14},{"x":29,"y":51,"v":14},{"x":44,"y":51,"v":17},{"x":45,"y":51,"v":9.5},{"x":46,"y":51,"v":9.5},{"x":47,"y":51,"v":14},{"x":48,"y":51,"v":9.5},{"x":49,"y":51,"v":9.5},{"x":50,"y":51,"v":1},{"x":51,"y":51,"v":1},{"x":52,"y":51,"v":1},{"x":53,"y":51,"v":8.4},{"x":54,"y":51,"v":9.5},{"x":55,"y":51,"v":11},{"x":56,"y":51,"v":14},{"x":57,"y":51,"v":19.5},
{"x":18,"y":52,"v":14},{"x":19,"y":52,"v":14},{"x":23,"y":52,"v":11},{"x":24,"y":52,"v":11},{"x":26,"y":52,"v":14},{"x":27,"y":52,"v":11},{"x":28,"y":52,"v":14},{"x":30,"y":52,"v":14},{"x":43,"y":52,"v":14},{"x":44,"y":52,"v":9.5},{"x":45,"y":52,"v":9.5},{"x":46,"y":52,"v":9.5},{"x":47,"y":52,"v":9.5},{"x":48,"y":52,"v":11},{"x":49,"y":52,"v":9.5},{"x":50,"y":52,"v":8.4},{"x":51,"y":52,"v":1},{"x":52,"y":52,"v":1},{"x":53,"y":52,"v":1},{"x":54,"y":52,"v":8.4},{"x":55,"y":52,"v":9.5},{"x":56,"y":52,"v":14},{"x":57,"y":52,"v":17},{"x":58,"y":52,"v":17},{"x":59,"y":52,"v":17},
{"x":15,"y":53,"v":17},{"x":19,"y":53,"v":14},{"x":20,"y":53,"v":14},{"x":21,"y":53,"v":14},{"x":22,"y":53,"v":14},{"x":23,"y":53,"v":14},{"x":27,"y":53,"v":11},{"x":29,"y":53,"v":14},{"x":32,"y":53,"v":17},{"x":44,"y":53,"v":17},{"x":46,"y":53,"v":9.5},{"x":47,"y":53,"v":17},{"x":48,"y":53,"v":11},{"x":49,"y":53,"v":14},{"x":50,"y":53,"v":9.5},{"x":51,"y":53,"v":8.4},{"x":52,"y":53,"v":1},{"x":53,"y":53,"v":1},{"x":54,"y":53,"v":1},{"x":55,"y":53,"v":8.4},{"x":56,"y":53,"v":9.5},{"x":57,"y":53,"v":14},{"x":59,"y":53,"v":17},{"x":60,"y":53,"v":17},{"x":62,"y":53,"v":17},
{"x":19,"y":54,"v":14},{"x":20,"y":54,"v":14},{"x":21,"y":54,"v":14},{"x":22,"y":54,"v":14},{"x":23,"y":54,"v":14},{"x":27,"y":54,"v":14},{"x":32,"y":54,"v":17},{"x":49,"y":54,"v":17},{"x":50,"y":54,"v":14},{"x":51,"y":54,"v":9.5},{"x":52,"y":54,"v":8.4},{"x":53,"y":54,"v":1},{"x":54,"y":54,"v":1},{"x":55,"y":54,"v":1},{"x":56,"y":54,"v":8.4},{"x":57,"y":54,"v":9.5},{"x":58,"y":54,"v":14},{"x":59,"y":54,"v":17},{"x":60,"y":54,"v":17},{"x":62,"y":54,"v":17},
{"x":13,"y":55,"v":17},{"x":19,"y":55,"v":14},{"x":20,"y":55,"v":14},{"x":21,"y":55,"v":14},{"x":22,"y":55,"v":14},{"x":48,"y":55,"v":17},{"x":49,"y":55,"v":17},{"x":50,"y":55,"v":17},{"x":51,"y":55,"v":14},{"x":52,"y":55,"v":9.5},{"x":53,"y":55,"v":8.4},{"x":54,"y":55,"v":1},{"x":55,"y":55,"v":1},{"x":56,"y":55,"v":1},{"x":57,"y":55,"v":8.4},{"x":58,"y":55,"v":9.5},{"x":59,"y":55,"v":14},{"x":60,"y":55,"v":9.5},{"x":61,"y":55,"v":17},{"x":62,"y":55,"v":17},{"x":64,"y":55,"v":17},
{"x":19,"y":56,"v":14},{"x":21,"y":56,"v":11},{"x":22,"y":56,"v":14},{"x":50,"y":56,"v":14},{"x":51,"y":56,"v":14},{"x":52,"y":56,"v":14},{"x":53,"y":56,"v":11},{"x":54,"y":56,"v":8.4},{"x":55,"y":56,"v":1},{"x":56,"y":56,"v":1},{"x":57,"y":56,"v":1},{"x":58,"y":56,"v":8.4},{"x":59,"y":56,"v":11},{"x":60,"y":56,"v":11},{"x":61,"y":56,"v":11},{"x":62,"y":56,"v":9.5},{"x":63,"y":56,"v":14},{"x":65,"y":56,"v":14},{"x":66,"y":56,"v":14},
{"x":13,"y":57,"v":17},{"x":22,"y":57,"v":14},{"x":51,"y":57,"v":17},{"x":52,"y":57,"v":14},{"x":53,"y":57,"v":14},{"x":54,"y":57,"v":9.5},{"x":55,"y":57,"v":8.4},{"x":56,"y":57,"v":1},{"x":57,"y":57,"v":1},{"x":58,"y":57,"v":1},{"x":59,"y":57,"v":5.5},{"x":60,"y":57,"v":9.5},{"x":61,"y":57,"v":11},{"x":62,"y":57,"v":9.5},{"x":63,"y":57,"v":14},{"x":64,"y":57,"v":14},{"x":65,"y":57,"v":11},{"x":66,"y":57,"v":14},{"x":67,"y":57,"v":14},
{"x":52,"y":58,"v":14},{"x":54,"y":58,"v":14},{"x":55,"y":58,"v":11},{"x":56,"y":58,"v":8.4},{"x":57,"y":58,"v":1},{"x":58,"y":58,"v":1},{"x":59,"y":58,"v":1},{"x":60,"y":58,"v":7},{"x":61,"y":58,"v":11},{"x":62,"y":58,"v":11},{"x":63,"y":58,"v":11},{"x":64,"y":58,"v":14},{"x":65,"y":58,"v":14},{"x":66,"y":58,"v":14},{"x":67,"y":58,"v":14},
{"x":29,"y":59,"v":17},{"x":52,"y":59,"v":14},{"x":53,"y":59,"v":14},{"x":54,"y":59,"v":17},{"x":55,"y":59,"v":14},{"x":56,"y":59,"v":11},{"x":57,"y":59,"v":5.5},{"x":58,"y":59,"v":1},{"x":59,"y":59,"v":1},{"x":60,"y":59,"v":1},{"x":61,"y":59,"v":9.5},{"x":62,"y":59,"v":9.5},{"x":63,"y":59,"v":14},{"x":64,"y":59,"v":14},{"x":65,"y":59,"v":11},{"x":66,"y":59,"v":14},{"x":67,"y":59,"v":14},
{"x":29,"y":60,"v":17},{"x":53,"y":60,"v":14},{"x":54,"y":60,"v":14},{"x":55,"y":60,"v":9.5},{"x":56,"y":60,"v":11},{"x":57,"y":60,"v":9.5},{"x":58,"y":60,"v":7},{"x":59,"y":60,"v":1},{"x":60,"y":60,"v":1},{"x":61,"y":60,"v":1},{"x":62,"y":60,"v":8.4},{"x":64,"y":60,"v":14},{"x":65,"y":60,"v":9.5},{"x":66,"y":60,"v":14},{"x":68,"y":60,"v":14},
{"x":55,"y":61,"v":14},{"x":56,"y":61,"v":11},{"x":57,"y":61,"v":11},{"x":58,"y":61,"v":11},{"x":59,"y":61,"v":9.5},{"x":60,"y":61,"v":1},{"x":61,"y":61,"v":1},{"x":62,"y":61,"v":1},{"x":63,"y":61,"v":8.4},{"x":64,"y":61,"v":9.5},{"x":65,"y":61,"v":5.5},{"x":66,"y":61,"v":9.5},{"x":67,"y":61,"v":9.5},{"x":68,"y":61,"v":14},{"x":69,"y":61,"v":14},
{"x":21,"y":62,"v":9.5},{"x":53,"y":62,"v":14},{"x":54,"y":62,"v":14},{"x":55,"y":62,"v":14},{"x":56,"y":62,"v":9.5},{"x":57,"y":62,"v":9.5},{"x":58,"y":62,"v":11},{"x":59,"y":62,"v":9.5},{"x":60,"y":62,"v":8.4},{"x":61,"y":62,"v":1},{"x":62,"y":62,"v":1},{"x":63,"y":62,"v":1},{"x":64,"y":62,"v":7},{"x":65,"y":62,"v":5.5},{"x":66,"y":62,"v":9.5},{"x":67,"y":62,"v":9.5},{"x":68,"y":62,"v":14},
{"x":20,"y":63,"v":9.5},{"x":21,"y":63,"v":9.5},{"x":56,"y":63,"v":14},{"x":57,"y":63,"v":14},{"x":58,"y":63,"v":11},{"x":59,"y":63,"v":14},{"x":61,"y":63,"v":8.4},{"x":62,"y":63,"v":1},{"x":63,"y":63,"v":1},{"x":64,"y":63,"v":1},{"x":65,"y":63,"v":8.4},{"x":66,"y":63,"v":9.5},{"x":67,"y":63,"v":11},{"x":68,"y":63,"v":17},{"x":69,"y":63,"v":19.5},
{"x":18,"y":64,"v":17},{"x":19,"y":64,"v":9.5},{"x":20,"y":64,"v":17},{"x":27,"y":64,"v":9.5},{"x":55,"y":64,"v":14},{"x":57,"y":64,"v":14},{"x":58,"y":64,"v":14},{"x":59,"y":64,"v":14},{"x":60,"y":64,"v":11},{"x":61,"y":64,"v":9.5},{"x":62,"y":64,"v":7},{"x":63,"y":64,"v":1},{"x":64,"y":64,"v":1},{"x":65,"y":64,"v":1},{"x":66,"y":64,"v":8.4},{"x":67,"y":64,"v":9.5},{"x":68,"y":64,"v":14},{"x":69,"y":64,"v":17},{"x":70,"y":64,"v":19.5},
{"x":17,"y":65,"v":17},{"x":18,"y":65,"v":11},{"x":27,"y":65,"v":9.5},{"x":28,"y":65,"v":9.5},{"x":29,"y":65,"v":9.5},{"x":32,"y":65,"v":17},{"x":56,"y":65,"v":14},{"x":57,"y":65,"v":11},{"x":58,"y":65,"v":14},{"x":59,"y":65,"v":11},{"x":60,"y":65,"v":9.5},{"x":61,"y":65,"v":5.5},{"x":62,"y":65,"v":5.5},{"x":63,"y":65,"v":8.4},{"x":64,"y":65,"v":1},{"x":65,"y":65,"v":1},{"x":66,"y":65,"v":1},{"x":67,"y":65,"v":8.4},{"x":68,"y":65,"v":9.5},{"x":69,"y":65,"v":14},{"x":70,"y":65,"v":17},{"x":71,"y":65,"v":19.5},{"x":75,"y":65,"v":14},
{"x":14,"y":66,"v":17},{"x":16,"y":66,"v":17},{"x":17,"y":66,"v":11},{"x":20,"y":66,"v":17},{"x":27,"y":66,"v":9.5},{"x":28,"y":66,"v":9.5},{"x":29,"y":66,"v":9.5},{"x":30,"y":66,"v":9.5},{"x":56,"y":66,"v":14},{"x":57,"y":66,"v":14},{"x":58,"y":66,"v":14},{"x":59,"y":66,"v":14},{"x":60,"y":66,"v":14},{"x":61,"y":66,"v":9.5},{"x":62,"y":66,"v":9.5},{"x":63,"y":66,"v":9.5},{"x":64,"y":66,"v":8.4},{"x":65,"y":66,"v":1},{"x":66,"y":66,"v":1},{"x":67,"y":66,"v":1},{"x":68,"y":66,"v":8.4},{"x":69,"y":66,"v":9.5},{"x":70,"y":66,"v":14},{"x":71,"y":66,"v":17},{"x":72,"y":66,"v":19.5},{"x":73,"y":66,"v":17},{"x":75,"y":66,"v":14},
{"x":15,"y":67,"v":17},{"x":16,"y":67,"v":9.5},{"x":19,"y":67,"v":17},{"x":20,"y":67,"v":17},{"x":28,"y":67,"v":9.5},{"x":29,"y":67,"v":9.5},{"x":30,"y":67,"v":9.5},{"x":31,"y":67,"v":9.5},{"x":57,"y":67,"v":14},{"x":58,"y":67,"v":14},{"x":59,"y":67,"v":14},{"x":61,"y":67,"v":9.5},{"x":62,"y":67,"v":9.5},{"x":63,"y":67,"v":14},{"x":64,"y":67,"v":11},{"x":65,"y":67,"v":8.4},{"x":66,"y":67,"v":1},{"x":67,"y":67,"v":1},{"x":68,"y":67,"v":1},{"x":69,"y":67,"v":7},{"x":70,"y":67,"v":9.5},{"x":71,"y":67,"v":14},{"x":72,"y":67,"v":17},{"x":73,"y":67,"v":11},{"x":74,"y":67,"v":14},{"x":75,"y":67,"v":9.5},{"x":76,"y":67,"v":11},
{"x":14,"y":68,"v":11},{"x":15,"y":68,"v":11},{"x":20,"y":68,"v":9.5},{"x":29,"y":68,"v":9.5},{"x":30,"y":68,"v":9.5},{"x":31,"y":68,"v":9.5},{"x":60,"y":68,"v":17},{"x":61,"y":68,"v":14},{"x":62,"y":68,"v":14},{"x":63,"y":68,"v":17},{"x":64,"y":68,"v":14},{"x":65,"y":68,"v":9.5},{"x":66,"y":68,"v":8.4},{"x":67,"y":68,"v":1},{"x":68,"y":68,"v":1},{"x":69,"y":68,"v":1},{"x":70,"y":68,"v":8.4},{"x":71,"y":68,"v":9.5},{"x":72,"y":68,"v":14},{"x":73,"y":68,"v":9.5},{"x":74,"y":68,"v":17},{"x":75,"y":68,"v":11},{"x":76,"y":68,"v":17},{"x":77,"y":68,"v":19.5},
{"x":11,"y":69,"v":17},{"x":12,"y":69,"v":11},{"x":13,"y":69,"v":11},{"x":15,"y":69,"v":9.5},{"x":19,"y":69,"v":17},{"x":29,"y":69,"v":9.5},{"x":30,"y":69,"v":11},{"x":31,"y":69,"v":9.5},{"x":32,"y":69,"v":9.5},{"x":33,"y":69,"v":9.5},{"x":61,"y":69,"v":14},{"x":63,"y":69,"v":17},{"x":64,"y":69,"v":17},{"x":65,"y":69,"v":14},{"x":66,"y":69,"v":9.5},{"x":67,"y":69,"v":7},{"x":68,"y":69,"v":1},{"x":69,"y":69,"v":1},{"x":70,"y":69,"v":1},{"x":71,"y":69,"v":8.4},{"x":72,"y":69,"v":9.5},{"x":73,"y":69,"v":5.5},{"x":74,"y":69,"v":9.5},{"x":75,"y":69,"v":5.5},{"x":76,"y":69,"v":11},{"x":77,"y":69,"v":11},{"x":78,"y":69,"v":11},
{"x":13,"y":70,"v":9.5},{"x":14,"y":70,"v":9.5},{"x":15,"y":70,"v":9.5},{"x":31,"y":70,"v":14},{"x":33,"y":70,"v":11},{"x":41,"y":70,"v":17},{"x":64,"y":70,"v":19.5},{"x":65,"y":70,"v":17},{"x":66,"y":70,"v":14},{"x":67,"y":70,"v":9.5},{"x":68,"y":70,"v":8.4},{"x":69,"y":70,"v":1},{"x":70,"y":70,"v":1},{"x":71,"y":70,"v":1},{"x":72,"y":70,"v":7},{"x":73,"y":70,"v":5.5},{"x":74,"y":70,"v":11},{"x":75,"y":70,"v":14},{"x":76,"y":70,"v":17},{"x":77,"y":70,"v":17},{"x":78,"y":70,"v":19.5},
{"x":12,"y":71,"v":14},{"x":32,"y":71,"v":9.5},{"x":33,"y":71,"v":9.5},{"x":34,"y":71,"v":9.5},{"x":65,"y":71,"v":19.5},{"x":66,"y":71,"v":17},{"x":67,"y":71,"v":14},{"x":68,"y":71,"v":9.5},{"x":69,"y":71,"v":8.4},{"x":70,"y":71,"v":1},{"x":71,"y":71,"v":1},{"x":72,"y":71,"v":1},{"x":73,"y":71,"v":8.4},{"x":74,"y":71,"v":11},{"x":75,"y":71,"v":11},{"x":77,"y":71,"v":17},
{"x":11,"y":72,"v":11},{"x":12,"y":72,"v":9.5},{"x":16,"y":72,"v":9.5},{"x":17,"y":72,"v":9.5},{"x":18,"y":72,"v":17},{"x":33,"y":72,"v":9.5},{"x":34,"y":72,"v":9.5},{"x":42,"y":72,"v":17},{"x":66,"y":72,"v":17},{"x":67,"y":72,"v":14},{"x":68,"y":72,"v":14},{"x":69,"y":72,"v":11},{"x":70,"y":72,"v":7},{"x":71,"y":72,"v":1},{"x":72,"y":72,"v":1},{"x":73,"y":72,"v":1},{"x":74,"y":72,"v":8.4},{"x":75,"y":72,"v":9.5},{"x":76,"y":72,"v":14},{"x":77,"y":72,"v":17},{"x":78,"y":72,"v":19.5},{"x":89,"y":72,"v":17},{"x":90,"y":72,"v":17},
{"x":11,"y":73,"v":11},{"x":12,"y":73,"v":9.5},{"x":15,"y":73,"v":9.5},{"x":16,"y":73,"v":11},{"x":17,"y":73,"v":9.5},{"x":33,"y":73,"v":9.5},{"x":66,"y":73,"v":17},{"x":67,"y":73,"v":14},{"x":68,"y":73,"v":11},{"x":69,"y":73,"v":5.5},{"x":70,"y":73,"v":5.5},{"x":71,"y":73,"v":8.4},{"x":72,"y":73,"v":1},{"x":73,"y":73,"v":1},{"x":74,"y":73,"v":1},{"x":75,"y":73,"v":8.4},{"x":76,"y":73,"v":9.5},{"x":77,"y":73,"v":14},{"x":78,"y":73,"v":17},{"x":79,"y":73,"v":19.5},{"x":88,"y":73,"v":17},
{"x":9,"y":74,"v":11},{"x":10,"y":74,"v":11},{"x":15,"y":74,"v":9.5},{"x":16,"y":74,"v":17},{"x":67,"y":74,"v":17},{"x":68,"y":74,"v":17},{"x":69,"y":74,"v":9.5},{"x":70,"y":74,"v":9.5},{"x":71,"y":74,"v":9.5},{"x":72,"y":74,"v":8.4},{"x":73,"y":74,"v":1},{"x":74,"y":74,"v":1},{"x":75,"y":74,"v":1},{"x":76,"y":74,"v":7},{"x":77,"y":74,"v":9.5},{"x":78,"y":74,"v":14},{"x":79,"y":74,"v":17},{"x":80,"y":74,"v":17},{"x":81,"y":74,"v":17},
{"x":9,"y":75,"v":11},{"x":15,"y":75,"v":11},{"x":16,"y":75,"v":17},{"x":17,"y":75,"v":11},{"x":20,"y":75,"v":17},{"x":28,"y":75,"v":17},{"x":31,"y":75,"v":9.5},{"x":33,"y":75,"v":9.5},{"x":65,"y":75,"v":17},{"x":66,"y":75,"v":17},{"x":67,"y":75,"v":11},{"x":68,"y":75,"v":14},{"x":69,"y":75,"v":7},{"x":70,"y":75,"v":9.5},{"x":71,"y":75,"v":9.5},{"x":72,"y":75,"v":9.5},{"x":73,"y":75,"v":8.4},{"x":74,"y":75,"v":1},{"x":75,"y":75,"v":1},{"x":76,"y":75,"v":1},{"x":77,"y":75,"v":8.4},{"x":78,"y":75,"v":9.5},{"x":79,"y":75,"v":14},{"x":80,"y":75,"v":17},{"x":81,"y":75,"v":17},{"x":82,"y":75,"v":17},
{"x":7,"y":76,"v":9.5},{"x":8,"y":76,"v":9.5},{"x":13,"y":76,"v":9.5},{"x":14,"y":76,"v":9.5},{"x":15,"y":76,"v":17},{"x":16,"y":76,"v":17},{"x":67,"y":76,"v":14},{"x":68,"y":76,"v":17},{"x":69,"y":76,"v":11},{"x":70,"y":76,"v":17},{"x":72,"y":76,"v":14},{"x":73,"y":76,"v":9.5},{"x":74,"y":76,"v":7},{"x":75,"y":76,"v":1},{"x":76,"y":76,"v":1},{"x":77,"y":76,"v":1},{"x":78,"y":76,"v":7},{"x":79,"y":76,"v":9.5},{"x":80,"y":76,"v":9.5},{"x":81,"y":76,"v":9.5},{"x":82,"y":76,"v":14},{"x":83,"y":76,"v":14},
{"x":7,"y":77,"v":9.5},{"x":8,"y":77,"v":9.5},{"x":11,"y":77,"v":11},{"x":15,"y":77,"v":17},{"x":68,"y":77,"v":17},{"x":69,"y":77,"v":14},{"x":70,"y":77,"v":17},{"x":71,"y":77,"v":17},{"x":72,"y":77,"v":17},{"x":73,"y":77,"v":14},{"x":74,"y":77,"v":11},{"x":75,"y":77,"v":8.4},{"x":76,"y":77,"v":1},{"x":77,"y":77,"v":1},{"x":78,"y":77,"v":1},{"x":79,"y":77,"v":9.5},{"x":80,"y":77,"v":9.5},{"x":81,"y":77,"v":14},{"x":82,"y":77,"v":14},{"x":83,"y":77,"v":17},{"x":84,"y":77,"v":17},
{"x":6,"y":78,"v":9.5},{"x":7,"y":78,"v":9.5},{"x":8,"y":78,"v":9.5},{"x":9,"y":78,"v":9.5},{"x":11,"y":78,"v":9.5},{"x":13,"y":78,"v":17},{"x":14,"y":78,"v":17},{"x":69,"y":78,"v":14},{"x":70,"y":78,"v":17},{"x":72,"y":78,"v":19.5},{"x":73,"y":78,"v":17},{"x":74,"y":78,"v":14},{"x":75,"y":78,"v":9.5},{"x":76,"y":78,"v":7},{"x":77,"y":78,"v":1},{"x":78,"y":78,"v":1},{"x":79,"y":78,"v":1},{"x":80,"y":78,"v":7},{"x":81,"y":78,"v":9.5},{"x":82,"y":78,"v":14},{"x":83,"y":78,"v":14},{"x":84,"y":78,"v":14},{"x":86,"y":78,"v":17},
{"x":73,"y":79,"v":19.5},{"x":74,"y":79,"v":17},{"x":75,"y":79,"v":14},{"x":76,"y":79,"v":9.5},{"x":77,"y":79,"v":9.5},{"x":78,"y":79,"v":1},{"x":79,"y":79,"v":1},{"x":80,"y":79,"v":1},{"x":81,"y":79,"v":8.4},{"x":82,"y":79,"v":9.5},{"x":83,"y":79,"v":14},{"x":84,"y":79,"v":17},{"x":85,"y":79,"v":17},{"x":86,"y":79,"v":17},{"x":88,"y":79,"v":17},
{"x":74,"y":80,"v":14},{"x":75,"y":80,"v":14},{"x":76,"y":80,"v":11},{"x":77,"y":80,"v":9.5},{"x":78,"y":80,"v":7},{"x":79,"y":80,"v":1},{"x":80,"y":80,"v":1},{"x":81,"y":80,"v":1},{"x":82,"y":80,"v":8.4},{"x":83,"y":80,"v":9.5},{"x":84,"y":80,"v":14},{"x":85,"y":80,"v":17},{"x":86,"y":80,"v":9.5},{"x":87,"y":80,"v":17},{"x":88,"y":80,"v":17},
{"x":74,"y":81,"v":14},{"x":75,"y":81,"v":14},{"x":76,"y":81,"v":11},{"x":77,"y":81,"v":11},{"x":78,"y":81,"v":9.5},{"x":79,"y":81,"v":8.4},{"x":80,"y":81,"v":1},{"x":81,"y":81,"v":1},{"x":82,"y":81,"v":1},{"x":83,"y":81,"v":8.4},{"x":84,"y":81,"v":9.5},{"x":85,"y":81,"v":11},{"x":86,"y":81,"v":9.5},{"x":87,"y":81,"v":9.5},{"x":88,"y":81,"v":9.5},{"x":89,"y":81,"v":14},{"x":90,"y":81,"v":14},
{"x":75,"y":82,"v":17},{"x":76,"y":82,"v":14},{"x":77,"y":82,"v":14},{"x":78,"y":82,"v":11},{"x":79,"y":82,"v":9.5},{"x":80,"y":82,"v":8.4},{"x":81,"y":82,"v":1},{"x":82,"y":82,"v":1},{"x":83,"y":82,"v":1},{"x":84,"y":82,"v":8.4},{"x":85,"y":82,"v":9.5},{"x":86,"y":82,"v":9.5},{"x":87,"y":82,"v":9.5},{"x":88,"y":82,"v":9.5},{"x":89,"y":82,"v":9.5},{"x":90,"y":82,"v":17},
{"x":76,"y":83,"v":17},{"x":77,"y":83,"v":17},{"x":78,"y":83,"v":14},{"x":79,"y":83,"v":14},{"x":80,"y":83,"v":9.5},{"x":81,"y":83,"v":8.4},{"x":82,"y":83,"v":1},{"x":83,"y":83,"v":1},{"x":84,"y":83,"v":1},{"x":85,"y":83,"v":7},{"x":86,"y":83,"v":5.5},{"x":87,"y":83,"v":9.5},{"x":88,"y":83,"v":9.5},{"x":89,"y":83,"v":9.5},{"x":90,"y":83,"v":9.5},{"x":91,"y":83,"v":17},{"x":92,"y":83,"v":17},
{"x":77,"y":84,"v":17},{"x":78,"y":84,"v":17},{"x":79,"y":84,"v":17},{"x":80,"y":84,"v":14},{"x":81,"y":84,"v":11},{"x":82,"y":84,"v":8.4},{"x":83,"y":84,"v":1},{"x":84,"y":84,"v":1},{"x":85,"y":84,"v":1},{"x":86,"y":84,"v":8.4},{"x":87,"y":84,"v":9.5},{"x":88,"y":84,"v":14},{"x":89,"y":84,"v":9.5},
{"x":79,"y":85,"v":17},{"x":80,"y":85,"v":17},{"x":81,"y":85,"v":14},{"x":82,"y":85,"v":9.5},{"x":83,"y":85,"v":7},{"x":84,"y":85,"v":1},{"x":85,"y":85,"v":1},{"x":86,"y":85,"v":1},{"x":87,"y":85,"v":8.4},{"x":89,"y":85,"v":14},{"x":90,"y":85,"v":9.5},{"x":91,"y":85,"v":9.5},{"x":92,"y":85,"v":17},
{"x":78,"y":86,"v":14},{"x":79,"y":86,"v":14},{"x":80,"y":86,"v":9.5},{"x":81,"y":86,"v":9.5},{"x":82,"y":86,"v":9.5},{"x":83,"y":86,"v":5.5},{"x":84,"y":86,"v":8.4},{"x":85,"y":86,"v":1},{"x":86,"y":86,"v":1},{"x":87,"y":86,"v":1},{"x":88,"y":86,"v":8.4},{"x":89,"y":86,"v":9.5},{"x":90,"y":86,"v":14},{"x":91,"y":86,"v":9.5},{"x":92,"y":86,"v":9.5},{"x":96,"y":86,"v":17},
{"x":80,"y":87,"v":17},{"x":81,"y":87,"v":9.5},{"x":82,"y":87,"v":9.5},{"x":83,"y":87,"v":9.5},{"x":84,"y":87,"v":11},{"x":85,"y":87,"v":8.4},{"x":86,"y":87,"v":1},{"x":87,"y":87,"v":1},{"x":88,"y":87,"v":1},{"x":89,"y":87,"v":8.4},{"x":91,"y":87,"v":14},{"x":92,"y":87,"v":9.5},{"x":93,"y":87,"v":9.5},{"x":94,"y":87,"v":9.5},
{"x":73,"y":88,"v":17},{"x":79,"y":88,"v":17},{"x":80,"y":88,"v":17},{"x":81,"y":88,"v":9.5},{"x":82,"y":88,"v":9.5},{"x":83,"y":88,"v":9.5},{"x":84,"y":88,"v":14},{"x":86,"y":88,"v":8.4},{"x":87,"y":88,"v":1},{"x":88,"y":88,"v":1},{"x":89,"y":88,"v":1},{"x":90,"y":88,"v":8.4},{"x":92,"y":88,"v":14},{"x":93,"y":88,"v":9.5},{"x":94,"y":88,"v":9.5},
{"x":50,"y":89,"v":17},{"x":72,"y":89,"v":17},{"x":81,"y":89,"v":14},{"x":82,"y":89,"v":9.5},{"x":83,"y":89,"v":9.5},{"x":84,"y":89,"v":9.5},{"x":85,"y":89,"v":14},{"x":86,"y":89,"v":9.5},{"x":87,"y":89,"v":8.4},{"x":88,"y":89,"v":1},{"x":89,"y":89,"v":1},{"x":90,"y":89,"v":1},{"x":91,"y":89,"v":8.4},{"x":93,"y":89,"v":14},{"x":94,"y":89,"v":9.5},{"x":95,"y":89,"v":9.5},
{"x":72,"y":90,"v":17},{"x":81,"y":90,"v":14},{"x":82,"y":90,"v":14},{"x":83,"y":90,"v":9.5},{"x":85,"y":90,"v":9.5},{"x":86,"y":90,"v":14},{"x":88,"y":90,"v":8.4},{"x":89,"y":90,"v":1},{"x":90,"y":90,"v":1},{"x":91,"y":90,"v":1},{"x":92,"y":90,"v":8.4},{"x":94,"y":90,"v":14},{"x":95,"y":90,"v":9.5},{"x":96,"y":90,"v":14},
{"x":32,"y":91,"v":17},{"x":34,"y":91,"v":17},{"x":83,"y":91,"v":14},{"x":85,"y":91,"v":9.5},{"x":86,"y":91,"v":9.5},{"x":87,"y":91,"v":14},{"x":89,"y":91,"v":8.4},{"x":90,"y":91,"v":1},{"x":91,"y":91,"v":1},{"x":92,"y":91,"v":1},{"x":93,"y":91,"v":8.4},{"x":95,"y":91,"v":14},{"x":96,"y":91,"v":9.5},
{"x":83,"y":92,"v":17},{"x":85,"y":92,"v":14},{"x":86,"y":92,"v":9.5},{"x":87,"y":92,"v":9.5},{"x":88,"y":92,"v":14},{"x":90,"y":92,"v":8.4},{"x":91,"y":92,"v":1},{"x":92,"y":92,"v":1},{"x":93,"y":92,"v":1},{"x":94,"y":92,"v":8.4},{"x":96,"y":92,"v":14},
{"x":87,"y":93,"v":9.5},{"x":88,"y":93,"v":9.5},{"x":89,"y":93,"v":14},{"x":91,"y":93,"v":8.4},{"x":92,"y":93,"v":1},{"x":93,"y":93,"v":1},{"x":94,"y":93,"v":1},{"x":95,"y":93,"v":8.4},
{"x":87,"y":94,"v":9.5},{"x":88,"y":94,"v":9.5},{"x":89,"y":94,"v":9.5},{"x":90,"y":94,"v":14},{"x":92,"y":94,"v":8.4},{"x":93,"y":94,"v":1},{"x":94,"y":94,"v":1},{"x":95,"y":94,"v":1},{"x":96,"y":94,"v":8.4},
{"x":89,"y":95,"v":9.5},{"x":90,"y":95,"v":9.5},{"x":91,"y":95,"v":14},{"x":93,"y":95,"v":8.4},{"x":94,"y":95,"v":1},{"x":95,"y":95,"v":1},{"x":96,"y":95,"v":1},
{"x":86,"y":96,"v":17},{"x":90,"y":96,"v":11},{"x":91,"y":96,"v":9.5},{"x":92,"y":96,"v":14},{"x":94,"y":96,"v":8.4},{"x":95,"y":96,"v":1},{"x":96,"y":96,"v":1}
]},"mark":{"type":"rect","width":18.4,"height":18.4,"clip":true,"opacity":1},"encoding":{"x":{"field":"x","type":"quantitative","scale":{"domain":[0.524,96.67],"nice":false,"zero":false},"axis":{"orient":"bottom","values":[20,40,60,80],"grid":false,"title":"Residue index","titleFont":"Liberation Sans","titleFontWeight":"bold","titleFontSize":60,"titleColor":"black","titlePadding":-5,"labelFont":"Liberation Sans","labelFontWeight":"bold","labelFontSize":58,"labelColor":"black","labelPadding":0,"labelFlush":false,"tickColor":"black","tickWidth":4,"tickSize":10,"tickCap":"round","domainColor":"black","domainWidth":6,"domainCap":"square","zindex":1}},"y":{"field":"y","type":"quantitative","scale":{"domain":[0.49,96.53],"nice":false,"zero":false},"axis":{"orient":"left","values":[20,40,60,80],"grid":false,"title":"Residue index","titleFont":"Liberation Sans","titleFontWeight":"bold","titleFontSize":60,"titleColor":"black","titlePadding":2,"labelFont":"Liberation Sans","labelFontWeight":"bold","labelFontSize":58,"labelColor":"black","labelPadding":3,"labelFlush":false,"tickColor":"black","tickWidth":4,"tickSize":10,"tickCap":"round","domainColor":"black","domainWidth":6,"domainCap":"square","zindex":1}},"color":{"field":"v","type":"quantitative","scale":{"type":"linear","interpolate":"rgb","domain":[0.77,8.49,8.5,11,14,17,19.5,20,20.01,21.25],"range":["#ff0000","#ffa500","#a3bd85","#96b28e","#82a29a","#6f95ac","#5783bf","#5080c4","#0000ff","#0000ff"],"clamp":true},"legend":{"type":"gradient","orient":"none","legendX":1720.6,"legendY":1,"direction":"vertical","title":null,"values":[5,10,15,20],"format":"d","gradientLength":1696,"gradientThickness":10.75,"gradientStrokeColor":"black","gradientStrokeWidth":5.25,"labelFont":"Liberation Sans","labelFontWeight":"bold","labelFontSize":46,"labelColor":"black","labelOffset":11,"labelOverlap":false}}}},{"data":{"values":[{"x":1,"y":1}]},"mark":{"type":"point","opacity":0},"encoding":{"x":{"field":"x","type":"quantitative","axis":{"orient":"top","values":[20,40,60,80],"grid":false,"title":null,"labels":false,"tickColor":"black","tickWidth":4,"tickSize":10,"tickCap":"round","domainColor":"black","domainWidth":6,"domainCap":"square","zindex":1}},"y":{"field":"y","type":"quantitative","axis":{"orient":"right","values":[20,40,60,80],"grid":false,"title":null,"labels":false,"tickColor":"black","tickWidth":4,"tickSize":10,"tickCap":"round","domainColor":"black","domainWidth":6,"domainCap":"square","zindex":1}}}}],"resolve":{"axis":{"x":"independent","y":"independent"}}}
